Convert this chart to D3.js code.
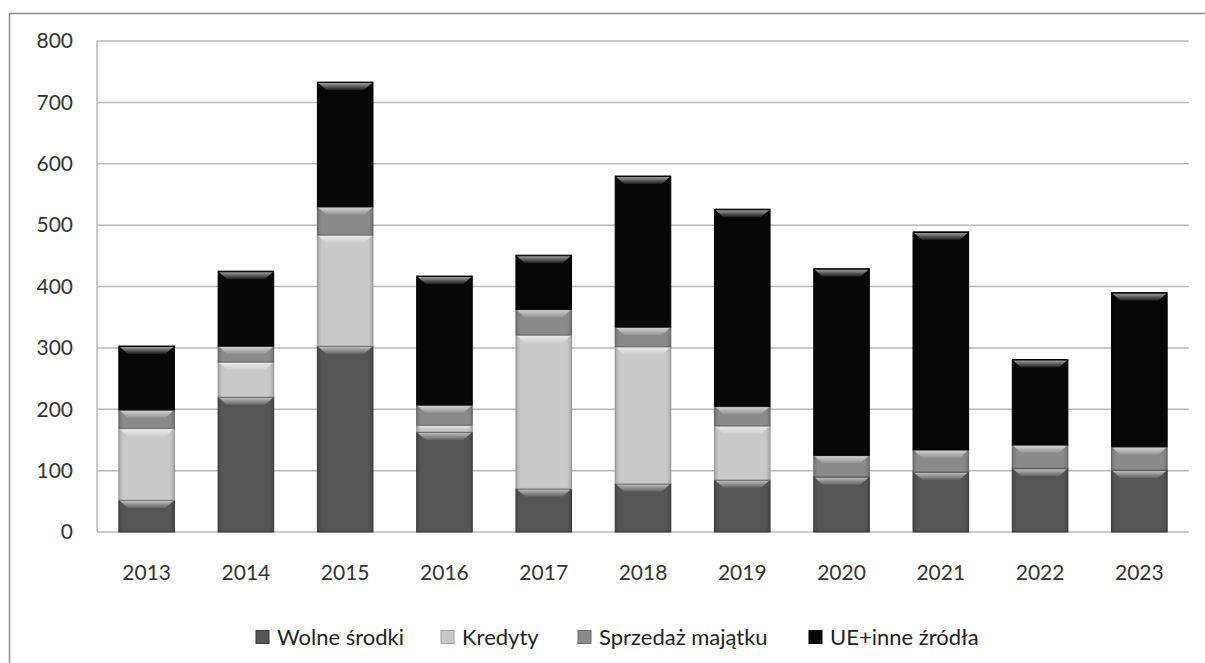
<!DOCTYPE html>
<html>
<head>
<meta charset="utf-8">
<script src="https://cdn.jsdelivr.net/npm/d3@7"></script>
<style>
  body { margin: 0; background: #fff; }
  svg { display: block; font-family: Lato, "Open Sans", sans-serif; }
</style>
</head>
<body>
<svg id="chart"></svg>
<script>
var years = ["2013","2014","2015","2016","2017","2018","2019","2020","2021","2022","2023"];
var seriesNames = ["Wolne środki", "Kredyty", "Sprzedaż majątku", "UE+inne źródła"];
var wolne    = [52, 220, 303, 163, 71, 79, 85, 90, 98, 104, 101];
var kredyty  = [117, 57, 181, 11, 250, 223, 88, 0, 0, 0, 0];
var sprzedaz = [30, 26, 46, 33, 42, 32, 32, 35, 36, 38, 38];
var ue       = [104, 122, 203, 210, 88, 246, 321, 304, 355, 139, 251];
var yTicks   = [0, 100, 200, 300, 400, 500, 600, 700, 800];

var colors = ["#555555", "#c9c9c9", "#8a8a8a", "#070707"];
var edges  = ["#3a3a3a", "#a0a0a0", "#6a6a6a", "#000000"];

var W = 1205, H = 663;
var margin = {left: 97, right: 16, top: 41, bottom: 131};
var svg = d3.select("#chart").attr("width", W).attr("height", H);

// outer frame
svg.append("rect")
  .attr("x", 9.5).attr("y", 13.5)
  .attr("width", 1220).attr("height", 700)
  .attr("fill", "none").attr("stroke", "#8c8c8c").attr("stroke-width", 1.5);

var rows = years.map(function(y, i){
  return {year: y, s0: wolne[i], s1: kredyty[i], s2: sprzedaz[i], s3: ue[i]};
});
var keys = ["s0","s1","s2","s3"];
var stacked = d3.stack().keys(keys)(rows);

var x = d3.scaleBand().domain(years)
  .range([margin.left, W - margin.right]).paddingInner(0.44).paddingOuter(0.22);
var y = d3.scaleLinear().domain([0, 800]).range([H - margin.bottom, margin.top]);

// gridlines
svg.append("g").selectAll("line").data(yTicks).join("line")
  .attr("x1", margin.left).attr("x2", W - margin.right)
  .attr("y1", function(d){return y(d);}).attr("y2", function(d){return y(d);})
  .attr("stroke", "#b8b8b8").attr("stroke-width", 1.5);
svg.append("line")
  .attr("x1", margin.left).attr("x2", margin.left)
  .attr("y1", y(800)).attr("y2", y(0))
  .attr("stroke", "#b8b8b8").attr("stroke-width", 1.5);

// y labels
svg.append("g").selectAll("text").data(yTicks).join("text")
  .attr("x", 73).attr("y", function(d){return y(d);})
  .attr("dy", "0.35em").attr("text-anchor", "end")
  .attr("font-size", 21).attr("fill", "#333")
  .text(function(d){return d;});

// x labels
svg.append("g").selectAll("text").data(years).join("text")
  .attr("x", function(d){return x(d) + x.bandwidth()/2;})
  .attr("y", 580).attr("text-anchor", "middle")
  .attr("font-size", 21).attr("fill", "#333")
  .text(function(d){return d;});

// gradients for bevel
var defs = svg.append("defs");
var bevTop = defs.append("linearGradient").attr("id", "bevTop")
  .attr("x1", 0).attr("y1", 0).attr("x2", 0).attr("y2", 1);
bevTop.append("stop").attr("offset", "0%").attr("stop-color", "#fff").attr("stop-opacity", 0.6);
bevTop.append("stop").attr("offset", "100%").attr("stop-color", "#fff").attr("stop-opacity", 0.08);
var side = defs.append("linearGradient").attr("id", "side")
  .attr("x1", 0).attr("y1", 0).attr("x2", 1).attr("y2", 0);
side.append("stop").attr("offset", "0%").attr("stop-color", "#000").attr("stop-opacity", 0.15);
side.append("stop").attr("offset", "8%").attr("stop-color", "#000").attr("stop-opacity", 0);
side.append("stop").attr("offset", "92%").attr("stop-color", "#000").attr("stop-opacity", 0);
side.append("stop").attr("offset", "100%").attr("stop-color", "#000").attr("stop-opacity", 0.15);

stacked.forEach(function(layer, k){
  var g = svg.append("g");
  layer.forEach(function(d){
    var h = y(d[0]) - y(d[1]);
    if (h <= 0) return;
    var x0 = x(d.data.year), bw = x.bandwidth(), y0 = y(d[1]);
    g.append("rect").attr("x", x0).attr("y", y0).attr("width", bw).attr("height", h)
      .attr("fill", colors[k]).attr("stroke", edges[k]).attr("stroke-width", 1);
    g.append("rect").attr("x", x0).attr("y", y0).attr("width", bw).attr("height", h)
      .attr("fill", "url(#side)");
    var b = Math.min(8, h/2);
    g.append("path")
      .attr("d", "M"+(x0+1)+","+(y0+1)+"L"+(x0+bw-1)+","+(y0+1)+"L"+(x0+bw-1-b)+","+(y0+b)+"L"+(x0+1+b)+","+(y0+b)+"Z")
      .attr("fill", "url(#bevTop)");
  });
});

// legend
var legendX = [256, 441, 578, 809];
var lg = svg.append("g").selectAll("g").data(seriesNames).join("g")
  .attr("transform", function(d, i){return "translate(" + legendX[i] + ",637)";});
lg.append("rect").attr("x", 0).attr("y", -6.5).attr("width", 13).attr("height", 13)
  .attr("fill", function(d, i){return colors[i];})
  .attr("stroke", function(d, i){return edges[i];});
lg.append("text").attr("x", 21).attr("dy", "0.35em")
  .attr("font-size", 22).attr("fill", "#222")
  .text(function(d){return d;});
</script>
</body>
</html>
